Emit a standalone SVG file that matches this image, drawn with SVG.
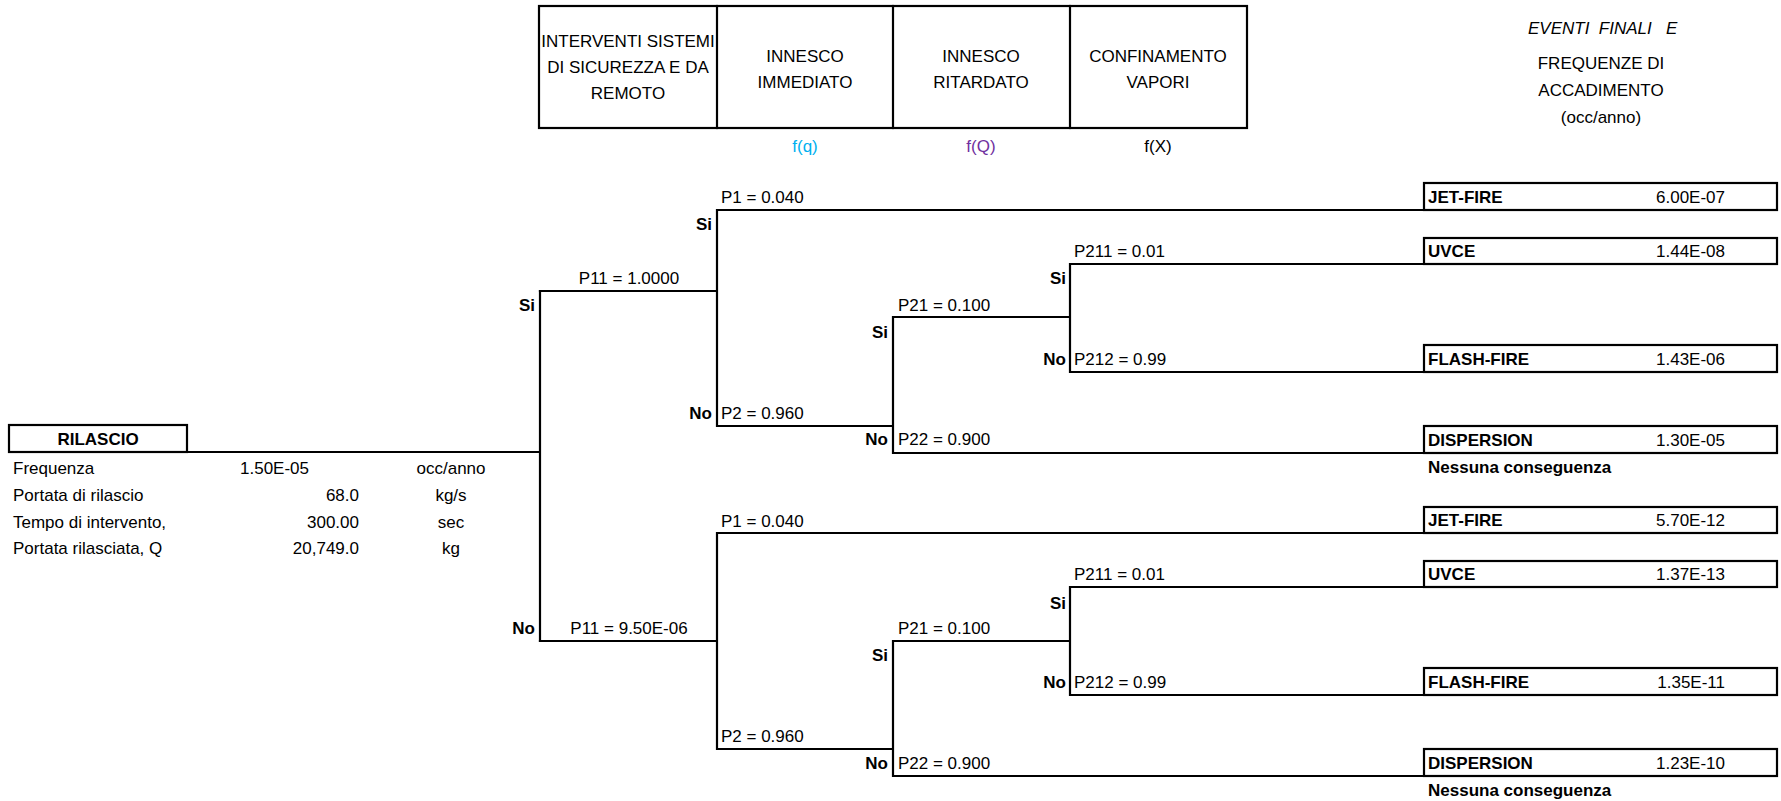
<svg xmlns="http://www.w3.org/2000/svg" width="1781" height="801" viewBox="0 0 1781 801">
<style>
text{font-family:"Liberation Sans",Arial,sans-serif;font-size:17px;fill:#000}
.b{font-weight:bold}
.c{text-anchor:middle}
.e{text-anchor:end}
.i{font-style:italic}
.ln{stroke:#000;stroke-width:2.2;fill:none;stroke-linecap:square}
.bx{stroke:#000;stroke-width:2.2;fill:#fff}
</style>
<rect width="1781" height="801" fill="#fff"/>

<g id="header">
  <rect class="bx" x="539" y="6" width="708" height="122"/>
  <line class="ln" x1="717" y1="6" x2="717" y2="128"/>
  <line class="ln" x1="893" y1="6" x2="893" y2="128"/>
  <line class="ln" x1="1070" y1="6" x2="1070" y2="128"/>
  <text class="c" x="628" y="47">INTERVENTI SISTEMI</text>
  <text class="c" x="628" y="73">DI SICUREZZA E DA</text>
  <text class="c" x="628" y="99">REMOTO</text>
  <text class="c" x="805" y="62">INNESCO</text>
  <text class="c" x="805" y="88">IMMEDIATO</text>
  <text class="c" x="981" y="62">INNESCO</text>
  <text class="c" x="981" y="88">RITARDATO</text>
  <text class="c" x="1158" y="62">CONFINAMENTO</text>
  <text class="c" x="1158" y="88">VAPORI</text>
  <text class="c" x="805" y="152" style="fill:#00B0F0">f(q)</text>
  <text class="c" x="981" y="152" style="fill:#7030A0">f(Q)</text>
  <text class="c" x="1158" y="152">f(X)</text>
</g>

<g id="final-header">
  <text class="i" x="1528" y="34" xml:space="preserve">EVENTI  FINALI   E</text>
  <text class="c" x="1601" y="69">FREQUENZE DI</text>
  <text class="c" x="1601" y="96">ACCADIMENTO</text>
  <text class="c" x="1601" y="123">(occ/anno)</text>
</g>

<g id="rilascio">
  <rect class="bx" x="9" y="425" width="178" height="27"/>
  <text class="b c" x="98" y="445">RILASCIO</text>
  <text x="13" y="474">Frequenza</text>
  <text x="13" y="501">Portata di rilascio</text>
  <text x="13" y="528">Tempo di intervento,</text>
  <text x="13" y="554">Portata rilasciata, Q</text>
  <text x="240" y="474">1.50E-05</text>
  <text class="e" x="359" y="501">68.0</text>
  <text class="e" x="359" y="528">300.00</text>
  <text class="e" x="359" y="554">20,749.0</text>
  <text class="c" x="451" y="474">occ/anno</text>
  <text class="c" x="451" y="501">kg/s</text>
  <text class="c" x="451" y="528">sec</text>
  <text class="c" x="451" y="554">kg</text>
</g>

<g id="connectors">
  <path class="ln" d="M187 452H540M540 291V641"/>
  <!-- top tree -->
  <path class="ln" d="M540 291H717M717 210V426M717 210H1424M717 426H893M893 317V453M893 317H1070M1070 264V372M1070 264H1424M1070 372H1424M893 453H1424"/>
  <!-- bottom tree -->
  <path class="ln" d="M540 641H717M717 533V749M717 533H1424M717 749H893M893 641V776M893 641H1070M1070 587V695M1070 587H1424M1070 695H1424M893 776H1424"/>
</g>

<g id="branch-labels">
  <text class="c" x="629" y="284">P11 = 1.0000</text>
  <text class="b e" x="535" y="311">Si</text>
  <text x="721" y="203">P1 = 0.040</text>
  <text class="b e" x="712" y="230">Si</text>
  <text class="b e" x="712" y="419">No</text>
  <text x="721" y="419">P2 = 0.960</text>
  <text x="898" y="311">P21 = 0.100</text>
  <text class="b e" x="888" y="338">Si</text>
  <text class="b e" x="888" y="445">No</text>
  <text x="898" y="445">P22 = 0.900</text>
  <text x="1074" y="257">P211 = 0.01</text>
  <text class="b e" x="1066" y="284">Si</text>
  <text class="b e" x="1066" y="365">No</text>
  <text x="1074" y="365">P212 = 0.99</text>

  <text class="b e" x="535" y="634">No</text>
  <text class="c" x="629" y="634">P11 = 9.50E-06</text>
  <text x="721" y="527">P1 = 0.040</text>
  <text x="721" y="742">P2 = 0.960</text>
  <text x="898" y="634">P21 = 0.100</text>
  <text class="b e" x="888" y="661">Si</text>
  <text class="b e" x="888" y="769">No</text>
  <text x="898" y="769">P22 = 0.900</text>
  <text x="1074" y="580">P211 = 0.01</text>
  <text class="b e" x="1066" y="609">Si</text>
  <text class="b e" x="1066" y="688">No</text>
  <text x="1074" y="688">P212 = 0.99</text>
</g>

<g id="out-jet-1"><rect class="bx" x="1424" y="183" width="353" height="27"/><text class="b" x="1428" y="203">JET-FIRE</text><text class="e" x="1725" y="203">6.00E-07</text></g>
<g id="out-uvce-1"><rect class="bx" x="1424" y="238" width="353" height="26"/><text class="b" x="1428" y="257">UVCE</text><text class="e" x="1725" y="257">1.44E-08</text></g>
<g id="out-flash-1"><rect class="bx" x="1424" y="345" width="353" height="27"/><text class="b" x="1428" y="365">FLASH-FIRE</text><text class="e" x="1725" y="365">1.43E-06</text></g>
<g id="out-disp-1"><rect class="bx" x="1424" y="426" width="353" height="27"/><text class="b" x="1428" y="446">DISPERSION</text><text class="e" x="1725" y="446">1.30E-05</text><text class="b" x="1428" y="473">Nessuna conseguenza</text></g>

<g id="out-jet-2"><rect class="bx" x="1424" y="507" width="353" height="26"/><text class="b" x="1428" y="526">JET-FIRE</text><text class="e" x="1725" y="526">5.70E-12</text></g>
<g id="out-uvce-2"><rect class="bx" x="1424" y="561" width="353" height="26"/><text class="b" x="1428" y="580">UVCE</text><text class="e" x="1725" y="580">1.37E-13</text></g>
<g id="out-flash-2"><rect class="bx" x="1424" y="668" width="353" height="27"/><text class="b" x="1428" y="688">FLASH-FIRE</text><text class="e" x="1725" y="688">1.35E-11</text></g>
<g id="out-disp-2"><rect class="bx" x="1424" y="749" width="353" height="27"/><text class="b" x="1428" y="769">DISPERSION</text><text class="e" x="1725" y="769">1.23E-10</text><text class="b" x="1428" y="796">Nessuna conseguenza</text></g>
</svg>
